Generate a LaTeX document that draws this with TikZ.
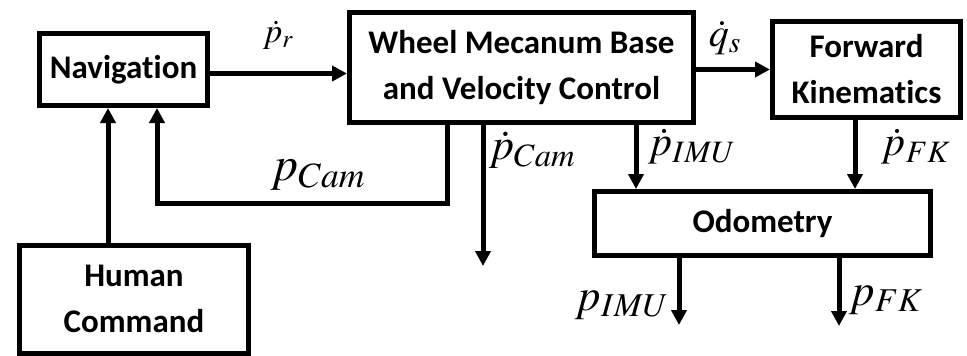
\documentclass[tikz,border=0pt]{standalone}
\usepackage{mathptmx}
\usepackage{fontspec}
\setmainfont{Carlito}[Ligatures={NoCommon,NoRequired,NoContextual}]
\usetikzlibrary{arrows.meta,calc}
\begin{document}
\begin{tikzpicture}[x=1pt,y=-1pt,
  blk/.style={draw=black,line width=5pt,fill=white,inner sep=0pt,align=center,
    font=\fontsize{33}{46}\selectfont\bfseries},
  arr/.style={line width=5pt,-{Triangle[length=15pt,width=15pt]}},
  lbl/.style={inner sep=0pt}]
\useasboundingbox (0,0) rectangle (967,356);
\node[blk,minimum width=168pt,minimum height=72pt] (nav) at (123.5,69.5) {Navigation};
\node[blk,minimum width=344pt,minimum height=110pt] (wheel) at (521.5,67.5) {Wheel Mecanum Base\\and Velocity Control};
\node[blk,minimum width=188pt,minimum height=96pt] (fk) at (866.5,69.5) {Forward\\Kinematics};
\node[blk,minimum width=336pt,minimum height=64pt] (odo) at (762.5,223.5) {Odometry};
\node[blk,minimum width=229pt,minimum height=108pt] (human) at (134,299) {Human\\Command};
% helper x positions
\coordinate (xh) at (108,0);
\coordinate (xf) at (157,0);
\coordinate (xc) at (447,0);
\coordinate (xpc) at (483,0);
\coordinate (xi) at (636,0);
\coordinate (xk) at (855,0);
\coordinate (xoi) at (679,0);
\coordinate (xok) at (839,0);
\coordinate (fbc) at (447,203);
\coordinate (fbn) at (157,203);
\coordinate (pcend) at (483,266);
\coordinate (piend) at (679,325);
\coordinate (pkend) at (839,326);
% connectors
\draw[arr] ([yshift=-4pt]nav.east) -- ([yshift=-4pt]nav.east -| wheel.west);
\draw[arr] (wheel.east |- fk.west) -- (fk.west);
\draw[arr] (human.north -| xh) -- (nav.south -| xh);
\draw[arr] (wheel.south -| xc) -- (fbc) -- (fbn) -- (nav.south -| xf);
\draw[arr] (wheel.south -| xpc) -- (pcend);
\draw[arr] (wheel.south -| xi) -- (odo.north -| xi);
\draw[arr] (fk.south -| xk) -- (odo.north -| xk);
\draw[arr] (odo.south -| xoi) -- (piend);
\draw[arr] ([yshift=3pt]odo.south -| xok) -- (pkend);
% labels
\node[lbl,font=\fontsize{34}{34}\selectfont] (lr) at (278,35) {$\dot p_r$};
\node[lbl,font=\fontsize{40}{40}\selectfont] (ls) at (725,38) {$\dot q_s$};
\node[lbl,font=\fontsize{48}{48}\selectfont] (lcam) at (318,175) {$p_{Cam}$};
\node[lbl,font=\fontsize{44}{44}\selectfont] (ldcam) at (532,150) {$\dot p_{Cam}$};
\node[lbl,font=\fontsize{42}{42}\selectfont] (ldimu) at (692,147) {$\dot p_{IMU}$};
\node[lbl,font=\fontsize{42}{42}\selectfont] (ldfk) at (916,147) {$\dot p_{FK}$};
\node[lbl,font=\fontsize{45}{45}\selectfont] (limu) at (622,305) {$p_{IMU}$};
\node[lbl,font=\fontsize{45}{45}\selectfont] (lfk) at (886,300) {$p_{FK}$};
\end{tikzpicture}
\end{document}
